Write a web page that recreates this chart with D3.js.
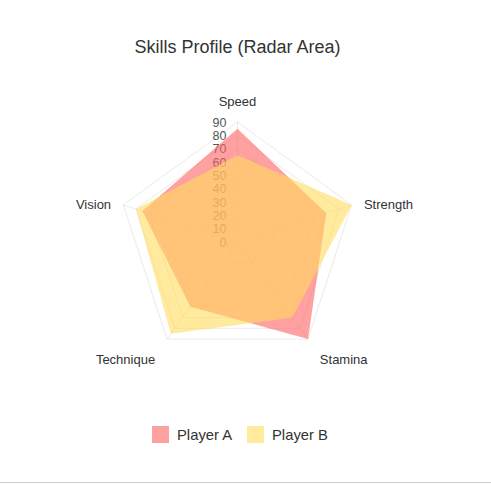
<!DOCTYPE html>
<html>
<head>
<meta charset="utf-8">
<script src="https://cdn.jsdelivr.net/npm/d3@7/dist/d3.min.js"></script>
<style>
  html, body { margin: 0; padding: 0; background: #fff; }
  svg { display: block; font-family: "Liberation Sans", Arial, Helvetica, sans-serif; }
</style>
</head>
<body>
<svg id="chart" width="491" height="484"></svg>
<script>
const title = "Skills Profile (Radar Area)";
const indicators = ["Speed", "Strength", "Stamina", "Technique", "Vision"];
const seriesNames = ["Player A", "Player B"];
const playerA = [85, 70, 90, 60, 75];
const playerB = [65, 90, 70, 85, 80];
const tickValues = [0, 10, 20, 30, 40, 50, 60, 70, 80, 90];
const maxValue = 90;

const colors = ["rgba(255,99,99,0.6)", "rgba(255,220,94,0.6)"];

const svg = d3.select("#chart");
const cx = 237.5, cy = 242, R = 120;

const r = d3.scaleLinear().domain([0, maxValue]).range([0, R]);
const angle = d3.scaleLinear().domain([0, indicators.length]).range([0, 2 * Math.PI]);

const g = svg.append("g").attr("transform", `translate(${cx},${cy})`);

// grid rings
const ringLine = d3.lineRadial()
  .angle((d, i) => angle(i))
  .radius(d => r(d))
  .curve(d3.curveLinearClosed);

tickValues.filter(v => v > 0).forEach(v => {
  g.append("path")
    .attr("d", ringLine(indicators.map(() => v)))
    .attr("fill", "none")
    .attr("stroke", "#ebebeb")
    .attr("stroke-width", 1);
});

// spokes
indicators.forEach((name, i) => {
  const a = angle(i);
  g.append("line")
    .attr("x1", 0).attr("y1", 0)
    .attr("x2", r(maxValue) * Math.sin(a))
    .attr("y2", -r(maxValue) * Math.cos(a))
    .attr("stroke", "#ebebeb")
    .attr("stroke-width", 1);
});

// tick labels
g.selectAll("text.tick")
  .data(tickValues)
  .enter().append("text")
  .attr("class", "tick")
  .attr("x", -11)
  .attr("y", d => -r(d))
  .attr("dy", "0.36em")
  .attr("text-anchor", "end")
  .attr("font-size", 12.5)
  .attr("fill", "#555")
  .text(d => d);

// areas
const areaLine = d3.lineRadial()
  .angle((d, i) => angle(i))
  .radius(d => r(d))
  .curve(d3.curveLinearClosed);

[playerA, playerB].forEach((vals, k) => {
  g.append("path")
    .attr("d", areaLine(vals))
    .attr("fill", colors[k])
    .attr("stroke", "none");
});

// axis names
const nameR = R + 15;
indicators.forEach((name, i) => {
  const a = angle(i);
  const x = nameR * Math.sin(a);
  const y = -nameR * Math.cos(a);
  let anchor = "middle", dy = "0em", dx = 0;
  if (Math.abs(Math.sin(a)) < 1e-4) { anchor = "middle"; dy = "-0.05em"; }
  else if (Math.sin(a) > 0) { anchor = "start"; }
  else { anchor = "end"; }
  let yy = y;
  if (i === 1 || i === 4) { yy = y + 4; dy = "0.36em"; dx = (i === 1 ? -2 : 2); }
  if (i === 2 || i === 3) { yy = y + 8; dy = "0.36em"; dx = (i === 2 ? 3 : -3); }
  g.append("text")
    .attr("x", x + dx)
    .attr("y", yy)
    .attr("dy", dy)
    .attr("text-anchor", anchor)
    .attr("font-size", 13)
    .attr("fill", "#333")
    .text(name);
});

// title
svg.append("text")
  .attr("x", cx)
  .attr("y", 53)
  .attr("text-anchor", "middle")
  .attr("font-size", 18)
  .attr("fill", "#333")
  .text(title);

// legend
const legendX = [152, 247];
seriesNames.forEach((name, k) => {
  const lg = svg.append("g").attr("transform", `translate(${legendX[k]},426)`);
  lg.append("rect").attr("width", 17).attr("height", 17).attr("fill", colors[k]);
  lg.append("text")
    .attr("x", 25)
    .attr("y", 9)
    .attr("dy", "0.36em")
    .attr("font-size", 14.8)
    .attr("fill", "#333")
    .text(name);
});

// bottom rule
svg.append("line")
  .attr("x1", 0).attr("x2", 491)
  .attr("y1", 482.5).attr("y2", 482.5)
  .attr("stroke", "#ccc")
  .attr("stroke-width", 1);
</script>
</body>
</html>
